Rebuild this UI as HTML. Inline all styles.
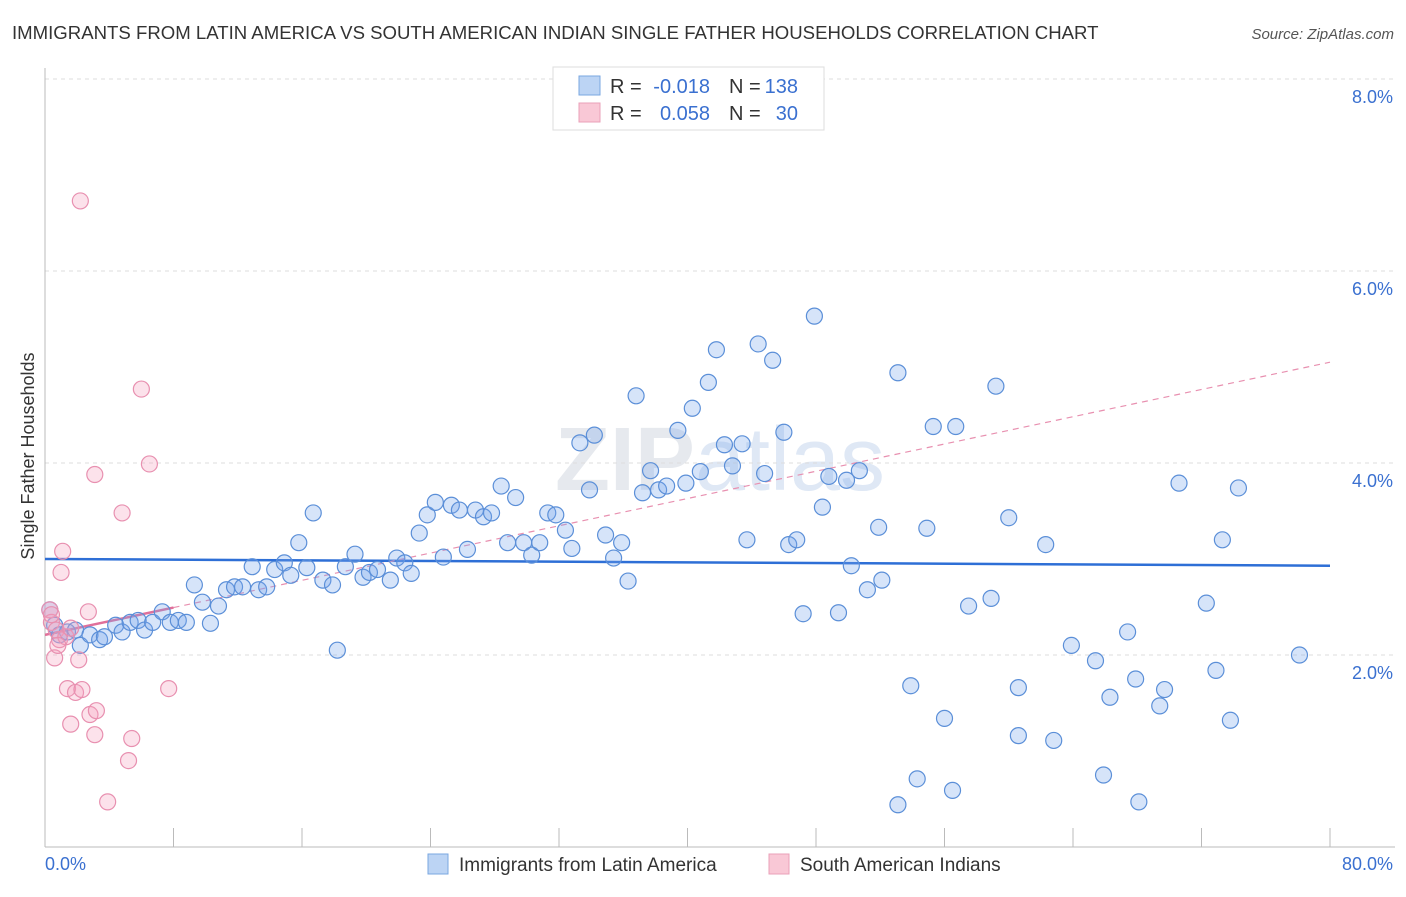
<!DOCTYPE html>
<html><head><meta charset="utf-8"><style>
body{margin:0;background:#fff;font-family:"Liberation Sans",sans-serif;}
svg text{font-family:"Liberation Sans",sans-serif;white-space:pre;}
</style></head><body>
<svg id="chart" width="1406" height="892" xml:space="preserve">
<text x="12" y="39" font-size="18.6" fill="#333">IMMIGRANTS FROM LATIN AMERICA VS SOUTH AMERICAN INDIAN SINGLE FATHER HOUSEHOLDS CORRELATION CHART</text>
<text x="1394" y="39" font-size="15" fill="#555" font-style="italic" text-anchor="end">Source: ZipAtlas.com</text>
<text x="720" y="490" font-size="90" fill="#e6e9ee" text-anchor="middle" font-weight="bold">ZIP<tspan fill="#dfe8f5" font-weight="normal">atlas</tspan></text>
<g id="grid"></g>
<g id="axes"></g>
<g id="trends"></g>
<g id="points"></g>
<text transform="translate(34,456) rotate(-90)" font-size="18" fill="#333" text-anchor="middle">Single Father Households</text>
<g>
<rect x="553" y="67" width="271" height="63" fill="#fff" stroke="#ddd"/>
<rect x="579" y="76" width="21" height="19" fill="#bcd4f4" stroke="#7aa7e0"/>
<rect x="579" y="103" width="21" height="19" fill="#f9c8d6" stroke="#eaa0b8"/>
<text x="610" y="93" font-size="20" fill="#333">R =</text>
<text x="710" y="93" font-size="20" fill="#3a70d0" text-anchor="end">-0.018</text>
<text x="729" y="93" font-size="20" fill="#333">N =</text>
<text x="798" y="93" font-size="20" fill="#3a70d0" text-anchor="end">138</text>
<text x="610" y="120" font-size="20" fill="#333">R =</text>
<text x="710" y="120" font-size="20" fill="#3a70d0" text-anchor="end">0.058</text>
<text x="729" y="120" font-size="20" fill="#333">N =</text>
<text x="798" y="120" font-size="20" fill="#3a70d0" text-anchor="end">30</text>
</g>
<g>
<rect x="428" y="854" width="20" height="20" fill="#bcd4f4" stroke="#7aa7e0"/>
<text x="459" y="871" font-size="19" fill="#333">Immigrants from Latin America</text>
<rect x="769" y="854" width="20" height="20" fill="#f9c8d6" stroke="#eaa0b8"/>
<text x="800" y="871" font-size="19" fill="#333">South American Indians</text>
</g>
</svg>
<script>
const blueX=[0.3,0.6,0.9,1.4,1.9,2.2,2.8,3.4,3.7,4.4,4.8,5.3,5.8,6.2,6.7,7.3,7.8,8.3,8.8,9.3,9.8,10.3,10.8,11.3,11.8,12.3,13.3,13.8,12.9,14.3,14.9,15.3,15.8,16.3,16.7,17.3,17.9,18.2,18.7,19.3,19.8,20.2,20.7,21.5,21.9,22.4,22.8,23.3,23.8,24.3,24.8,25.3,25.8,26.3,26.8,27.3,27.8,28.4,28.8,29.3,29.8,30.3,30.8,31.3,31.8,32.4,32.8,33.3,33.9,34.2,34.9,35.4,35.9,36.3,36.8,37.2,37.7,38.2,38.7,39.4,39.9,40.3,40.8,41.3,41.8,42.3,42.8,43.4,43.7,44.4,44.8,45.3,46.0,46.3,46.8,47.2,47.9,48.4,48.8,49.4,49.9,50.2,50.7,51.2,51.9,52.1,53.1,53.1,53.9,54.3,54.9,55.3,56.0,56.5,56.7,57.5,58.9,59.2,60.0,60.6,60.6,62.3,62.8,63.9,65.4,65.9,66.3,67.4,67.9,68.1,69.4,69.7,70.6,72.3,72.9,73.3,73.8,74.3,78.1];
const blueY=[2.47,2.31,2.21,2.24,2.26,2.10,2.21,2.16,2.19,2.31,2.24,2.34,2.36,2.26,2.34,2.45,2.34,2.36,2.34,2.73,2.55,2.33,2.51,2.68,2.71,2.71,2.68,2.71,2.92,2.89,2.96,2.83,3.17,2.91,3.48,2.78,2.73,2.05,2.92,3.05,2.81,2.86,2.89,2.78,3.01,2.96,2.85,3.27,3.46,3.59,3.02,3.56,3.51,3.10,3.51,3.44,3.48,3.76,3.17,3.64,3.17,3.04,3.17,3.48,3.46,3.30,3.11,4.21,3.72,4.29,3.25,3.01,3.17,2.77,4.70,3.69,3.92,3.72,3.76,4.34,3.79,4.57,3.91,4.84,5.18,4.19,3.97,4.20,3.20,5.24,3.89,5.07,4.32,3.15,3.20,2.43,5.53,3.54,3.86,2.44,3.82,2.93,3.92,2.68,3.33,2.78,4.94,0.44,1.68,0.71,3.32,4.38,1.34,0.59,4.38,2.51,2.59,4.80,3.43,1.16,1.66,3.15,1.11,2.10,1.94,0.75,1.56,2.24,1.75,0.47,1.47,1.64,3.79,2.54,1.84,3.20,1.32,3.74,2.00];
const pinkX=[2.2,6.0,6.5,3.1,4.8,1.1,1.0,0.3,2.7,0.4,0.7,0.9,1.3,0.6,2.1,1.6,1.4,1.9,2.3,7.7,1.6,2.8,3.2,3.1,5.4,5.2,3.9,0.4,0.8];
const pinkY=[6.73,4.77,3.99,3.88,3.48,3.08,2.86,2.47,2.45,2.34,2.26,2.16,2.19,1.97,1.95,2.28,1.65,1.61,1.64,1.65,1.28,1.38,1.42,1.17,1.13,0.90,0.47,2.42,2.10];
const yTicks=[2,4,6,8];
const xTicks=[0,8,16,24,32,40,48,56,64,72,80];
const blueTrend=[3.00,-0.000875];
const pinkTrend=[2.21,0.0355];
const X0=45,X1=1330,Y0=847;
const xs=v=>X0+(X1-X0)*v/80;
const ys=v=>Y0-96*v;
const NS='http://www.w3.org/2000/svg';
function mk(tag,attrs,parent){const e=document.createElementNS(NS,tag);for(const k in attrs)e.setAttribute(k,attrs[k]);parent.appendChild(e);return e;}
const grid=document.getElementById('grid'),axes=document.getElementById('axes'),tr=document.getElementById('trends'),pts=document.getElementById('points');
yTicks.forEach(t=>{
 const l=mk('line',{x1:X0,x2:1395,y1:ys(t),y2:ys(t),stroke:'#ddd','stroke-dasharray':'4,4'},grid);
 
 
 const tx=mk('text',{x:1393,y:ys(t)+24,'font-size':18,fill:'#3a70d0','text-anchor':'end'},grid);
 tx.textContent=t.toFixed(1)+'%';
 
 
});
const la=mk('line',{x1:X0,x2:X0,y1:68,y2:Y0,stroke:'#bbb'},axes);


const ba=mk('line',{x1:X0,x2:1395,y1:Y0,y2:Y0,stroke:'#bbb'},axes);


xTicks.forEach(i=>{
 const t=mk('line',{x1:xs(i),x2:xs(i),y1:Y0-19,y2:Y0,stroke:'#bbb'},axes);
 
 
});
const xl0=mk('text',{x:45,y:870,'font-size':18,fill:'#3a70d0'},axes);xl0.textContent='0.0%';


const xl1=mk('text',{x:1393,y:870,'font-size':18,fill:'#3a70d0','text-anchor':'end'},axes);xl1.textContent='80.0%';


function drawPts(X,Y,fill,stroke,name){X.forEach((x,i)=>{
 const c=mk('circle',{cx:xs(x),cy:ys(Y[i]),r:8,fill:fill,stroke:stroke,'stroke-width':1.2},pts);
 
 
});}
drawPts(blueX,blueY,'rgba(120,165,235,0.3)','#5b8fd8','latin-america-point');
drawPts(pinkX,pinkY,'rgba(245,160,190,0.3)','#e890b0','south-american-indian-point');
const bt=mk('line',{x1:xs(0),x2:xs(80),y1:ys(blueTrend[0]),y2:ys(blueTrend[0]+blueTrend[1]*80),stroke:'#2e6fd6','stroke-width':2.5},tr);


const pd=mk('line',{x1:xs(8),x2:xs(80),y1:ys(pinkTrend[0]+pinkTrend[1]*8),y2:ys(pinkTrend[0]+pinkTrend[1]*80),stroke:'#e890b0','stroke-width':1.2,'stroke-dasharray':'6,5'},tr);


const ps=mk('line',{x1:xs(0),x2:xs(8),y1:ys(pinkTrend[0]),y2:ys(pinkTrend[0]+pinkTrend[1]*8),stroke:'#e0709a','stroke-width':2.5},tr);


</script>
</body></html>
